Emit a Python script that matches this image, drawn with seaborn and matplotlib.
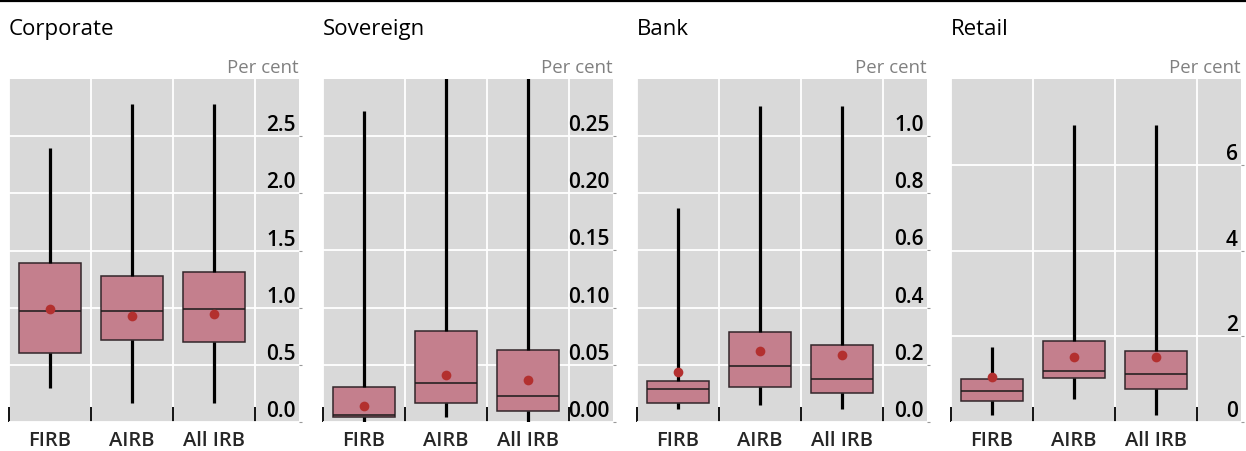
import numpy as np
import pandas as pd
import seaborn as sns
import matplotlib.pyplot as plt
from matplotlib.lines import Line2D

groups = ['FIRB', 'AIRB', 'All IRB']
titles = ['Corporate', 'Sovereign', 'Bank', 'Retail']

# whisker low, lower quartile, median, upper quartile, whisker high, mean (per cent)
corp_low = [0.30, 0.17, 0.17]
corp_q1 = [0.60, 0.72, 0.70]
corp_med = [0.97, 0.97, 0.99]
corp_q3 = [1.39, 1.28, 1.31]
corp_high = [2.40, 2.78, 2.78]
corp_mean = [0.99, 0.93, 0.945]

sov_low = [0.0, 0.004, 0.0]
sov_q1 = [0.004, 0.017, 0.0096]
sov_med = [0.0064, 0.034, 0.023]
sov_q3 = [0.031, 0.080, 0.063]
sov_high = [0.272, 0.33, 0.33]
sov_mean = [0.014, 0.041, 0.037]

bank_low = [0.044, 0.058, 0.044]
bank_q1 = [0.065, 0.123, 0.101]
bank_med = [0.115, 0.197, 0.151]
bank_q3 = [0.145, 0.314, 0.270]
bank_high = [0.75, 1.107, 1.107]
bank_mean = [0.174, 0.249, 0.233]

ret_low = [0.155, 0.53, 0.155]
ret_q1 = [0.50, 1.02, 0.78]
ret_med = [0.72, 1.18, 1.12]
ret_q3 = [1.00, 1.89, 1.66]
ret_high = [1.74, 6.92, 6.92]
ret_mean = [1.06, 1.52, 1.52]

# axis settings per panel
y_max = [3.0, 0.30, 1.2, 8.0]
y_ticks = [[0, 0.5, 1.0, 1.5, 2.0, 2.5],
           [0, 0.05, 0.10, 0.15, 0.20, 0.25],
           [0, 0.2, 0.4, 0.6, 0.8, 1.0],
           [0, 2, 4, 6]]
y_labels = [['0.0', '0.5', '1.0', '1.5', '2.0', '2.5'],
            ['0.00', '0.05', '0.10', '0.15', '0.20', '0.25'],
            ['0.0', '0.2', '0.4', '0.6', '0.8', '1.0'],
            ['0', '2', '4', '6']]

stats = [
    (corp_low, corp_q1, corp_med, corp_q3, corp_high, corp_mean),
    (sov_low, sov_q1, sov_med, sov_q3, sov_high, sov_mean),
    (bank_low, bank_q1, bank_med, bank_q3, bank_high, bank_mean),
    (ret_low, ret_q1, ret_med, ret_q3, ret_high, ret_mean),
]

sns.set_style('darkgrid', {'axes.facecolor': '#d9d9d9', 'grid.color': 'white'})
plt.rcParams['font.family'] = ['Open Sans', 'DejaVu Sans']

W, H = 1246, 451
fig = plt.figure(figsize=(W / 100, H / 100), dpi=100)

lefts = [9, 323, 637, 951]
box_color = '#c47f8d'
mean_color = '#b3302f'

for i in range(4):
    low, q1, med, q3, high, mean = stats[i]
    ax = fig.add_axes([lefts[i] / W, 1 - 422 / H, 290 / W, 343 / H])

    # five values per group: with whiskers at min/max the box shows exactly these stats
    df = pd.DataFrame({'group': groups * 5, 'value': low + q1 + med + q3 + high})
    df_mean = pd.DataFrame({'group': groups, 'mean': mean})

    sns.boxplot(data=df, x='group', y='value', order=groups, whis=(0, 100),
                width=0.76, color=box_color, saturation=1, linecolor='#33262a',
                linewidth=1.1, showcaps=False, showfliers=False,
                whiskerprops={'color': 'black', 'linewidth': 2.3},
                medianprops={'color': '#1a1a1a', 'linewidth': 1.1}, ax=ax)
    sns.stripplot(data=df_mean, x='group', y='mean', order=groups, jitter=False,
                  color=mean_color, size=7, linewidth=0, zorder=4, ax=ax)

    ax.set_xlim(-0.5, 3.037)
    ax.set_ylim(0, y_max[i])
    ax.set_xlabel('')
    ax.set_ylabel('')
    for s in ax.spines.values():
        s.set_visible(False)

    # grid: vertical separators between categories, horizontal at y ticks
    ax.set_xticks([-0.5, 0.5, 1.5, 2.5], minor=True)
    ax.set_xticks(range(3))
    ax.set_xticklabels(groups, fontsize=14.5, fontweight='semibold')
    ax.set_yticks(y_ticks[i])
    ax.grid(False)
    ax.grid(True, which='minor', axis='x', color='white', linewidth=1.3)
    ax.grid(True, which='major', axis='y', color='white', linewidth=1.3)
    ax.tick_params(axis='x', which='minor', direction='in', length=11, width=1.3,
                   color='black', bottom=True)
    ax.tick_params(axis='x', which='major', direction='out', length=2, width=0.8,
                   color='#bbbbbb', pad=4.5)
    ax.tick_params(axis='y', left=False, right=True, labelleft=False, labelright=False,
                   length=2, width=0.8, color='#999999')

    for v, lab in zip(y_ticks[i], y_labels[i]):
        ax.annotate(lab, xy=(1, v), xycoords=('axes fraction', 'data'),
                    xytext=(-2.2, 3.6), textcoords='offset points',
                    ha='right', va='baseline', fontsize=15, fontweight='semibold',
                    color='black')

    ax.annotate('Per cent', xy=(1, 1), xycoords='axes fraction', xytext=(0, 4.3),
                textcoords='offset points', ha='right', va='baseline',
                fontsize=13.4, color='#808080')
    ax.annotate(titles[i], xy=(0, 1), xycoords='axes fraction', xytext=(0, 31.7),
                textcoords='offset points', ha='left', va='baseline',
                fontsize=16, color='black')

fig.add_artist(Line2D([0, 1], [1 - 1 / H, 1 - 1 / H], color='black', linewidth=1.6,
                      transform=fig.transFigure))

fig.savefig('out.png', dpi=100)
